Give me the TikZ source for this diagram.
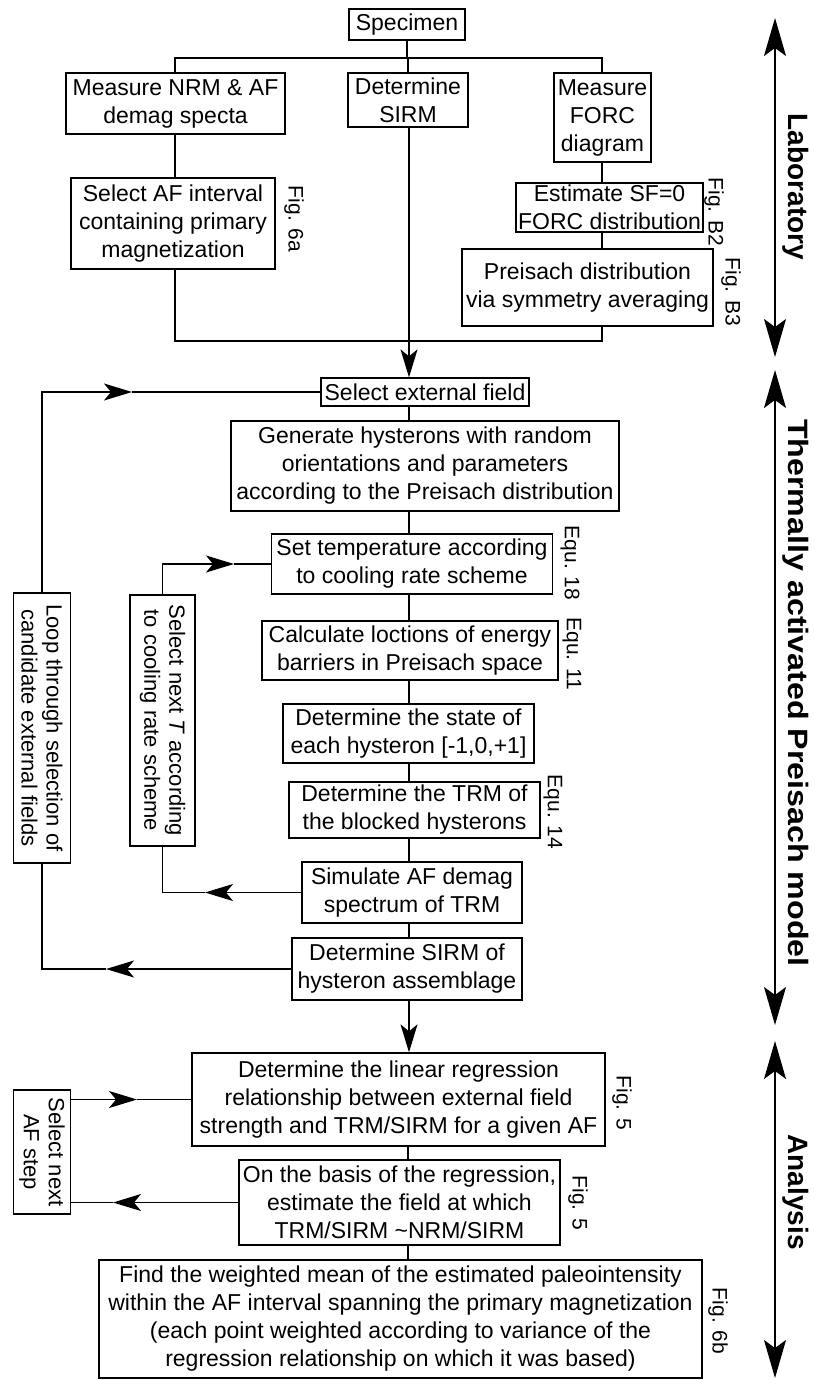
\documentclass[tikz,border=0pt]{standalone}
\usepackage{fontspec}
\setmainfont{Liberation Sans}
\usetikzlibrary{arrows.meta}
\newcommand{\mainsz}{\fontsize{23}{28}\selectfont}
\newcommand{\rotsz}{\fontsize{22}{25}\selectfont}
\newcommand{\figsz}{\fontsize{21}{25}\selectfont}
\newcommand{\sidesz}{\fontsize{28}{32}\selectfont\bfseries}
\begin{document}
\begin{tikzpicture}[x=1pt,y=-1pt,
 box/.style={draw, line width=1.3pt, inner xsep=2pt, inner ysep=0pt, align=center, font=\mainsz},
 rbox/.style={draw, line width=1.3pt, inner xsep=2pt, inner ysep=0pt, align=center, font=\rotsz, rotate=-90},
 figlab/.style={rotate=-90, font=\figsz, inner sep=0pt},
 side/.style={rotate=-90, font=\sidesz, inner sep=0pt},
 conn/.style={line width=1.3pt},
 arr/.style={conn, -{Stealth[length=28pt, width=17pt, inset=7pt]}},
 dbl/.style={line width=1.3pt, {Stealth[length=38pt,width=22pt,inset=8pt]}-{Stealth[length=38pt,width=22pt,inset=8pt]}},
]
\useasboundingbox (0,0) rectangle (814,1380);

% Laboratory
\node[box, minimum width=116pt, minimum height=31pt] (spec) at (407,24.5) {Specimen};
\node[box, minimum width=219pt, minimum height=61pt] (nrm) at (175.5,103.5) {Measure NRM \& AF\\demag specta};
\node[box, minimum width=120pt, minimum height=54pt] (sirm) at (408,100) {Determine\\SIRM};
\node[box, minimum width=97pt, minimum height=89pt] (forc) at (602.5,117.5) {Measure\\FORC\\diagram};
\node[box, minimum width=204pt, minimum height=91pt] (selaf) at (173,223.5) {Select AF interval\\containing primary\\magnetization};
\node[box, minimum width=177pt, minimum height=49pt] (est) at (609.5,207.5) {Estimate SF=0\\FORC distribution};
\node[box, minimum width=251pt, minimum height=77pt] (prei) at (587.5,287.5) {Preisach distribution\\via symmetry averaging};

% Model
\node[box, minimum width=208pt, minimum height=28pt] (selext) at (425,392) {Select external field};
\node[box, minimum width=388pt, minimum height=90pt] (gen) at (425,466) {Generate hysterons with random\\orientations and parameters\\according to the Preisach distribution};
\node[box, minimum width=281pt, minimum height=60pt] (settemp) at (412,564) {Set temperature according\\to cooling rate scheme};
\node[box, minimum width=296pt, minimum height=59pt] (calc) at (410,650.5) {Calculate loctions of energy\\barriers in Preisach space};
\node[box, minimum width=251pt, minimum height=59pt] (state) at (408.5,733.5) {Determine the state of\\each hysteron [-1,0,+1]};
\node[box, minimum width=251pt, minimum height=56pt] (trm) at (414.5,810) {Determine the TRM of\\the blocked hysterons};
\node[box, minimum width=220pt, minimum height=61pt] (sim) at (412,892.5) {Simulate AF demag\\spectrum of TRM};
\node[box, minimum width=230pt, minimum height=62pt] (sirmh) at (407,969) {Determine SIRM of\\hysteron assemblage};
\node[rbox, minimum width=270pt, minimum height=57.5pt] (loop) at (42,728) {Loop through selection of\\candidate external fields};
\node[rbox, minimum width=251pt, minimum height=65pt] (selT) at (162.5,720.5) {Select next \textit{T} according\\to cooling rate scheme};

% Analysis
\node[box, minimum width=413pt, minimum height=93pt] (lin) at (398.5,1099.5) {Determine the linear regression\\relationship between external field\\strength and TRM/SIRM for a given AF};
\node[box, minimum width=321pt, minimum height=85pt] (basis) at (399.5,1202.5) {On the basis of the regression,\\estimate the field at which\\TRM/SIRM \textasciitilde NRM/SIRM};
\node[box, minimum width=603pt, minimum height=118pt] (find) at (400.5,1319) {Find the weighted mean of the estimated paleointensity\\within the AF interval spanning the primary magnetization\\(each point weighted according to variance of the\\regression relationship on which it was based)};
\node[rbox, minimum width=124pt, minimum height=56.5pt] (afstep) at (42,1152) {Select next\\AF step};

% figure / equation labels
\node[figlab] (f6a) at (294,219) {Fig. 6a};
\node[figlab] (fb2) at (714,212) {Fig. B2};
\node[figlab] (fb3) at (731,292) {Fig. B3};
\node[figlab] (e18) at (570,563) {Equ. 18};
\node[figlab] (e11) at (572,654) {Equ. 11};
\node[figlab] (e14) at (553,812) {Equ. 14};
\node[figlab] (f5a) at (622,1103) {Fig. 5};
\node[figlab] (f5b) at (578,1203) {Fig. 5};
\node[figlab] (f6b) at (718,1321) {Fig. 6b};

% side labels and arrows
\coordinate (labT) at (775,18);
\coordinate (labB) at (775,357);
\coordinate (thT) at (775,370);
\coordinate (thB) at (775,1025);
\coordinate (anT) at (775,1041);
\coordinate (anB) at (775,1378);
\draw[dbl] (labT) -- (labB);
\draw[dbl] (thT) -- (thB);
\draw[dbl] (anT) -- (anB);
\node[side] (lab) at (796,187) {Laboratory};
\node[side] (therm) at (796,693) {\scalebox{1.15}[1]{Thermally activated Preisach model}};
\node[side] (anal) at (796,1192) {Analysis};

% laboratory connectors
\coordinate (br) at (407,58);
\coordinate (xL) at (175,0);
\coordinate (xR) at (602,0);
\coordinate (yM) at (0,341);
\draw[conn] (spec.south) -- (br);
\draw[conn] (xL |- nrm.north) |- (br) -| (xR |- forc.north);
\draw[conn] (br) -| (sirm.north);
\draw[conn] (xL |- nrm.south) -- (xL |- selaf.north);
\draw[conn] (xR |- forc.south) -- (xR |- est.north);
\draw[conn] (xR |- est.south) -- (xR |- prei.north);
\draw[conn] (xL |- selaf.south) -- (xL |- yM) -- (xR |- yM) -- (xR |- prei.south);

% spine
\coordinate (sp) at (409,0);
\draw[arr] (sp |- sirm.south) -- (sp |- selext.north);
\draw[conn] (sp |- selext.south) -- (sp |- gen.north);
\draw[conn] (sp |- gen.south) -- (sp |- settemp.north);
\draw[conn] (sp |- settemp.south) -- (sp |- calc.north);
\draw[conn] (sp |- calc.south) -- (sp |- state.north);
\draw[conn] (sp |- state.south) -- (sp |- trm.north);
\draw[conn] (sp |- trm.south) -- (sp |- sim.north);
\draw[conn] (sp |- sim.south) -- (sp |- sirmh.north);
\draw[arr] (sp |- sirmh.south) -- (sp |- lin.north);
\coordinate (sp2) at (408,0);
\draw[conn] (sp2 |- lin.south) -- (sp2 |- basis.north);
\draw[conn] (sp2 |- basis.south) -- (sp2 |- find.north);

% outer loop
\coordinate (xa) at (132,0);
\coordinate (xb) at (106,0);
\draw[arr] (loop.west) |- (xa |- selext.west);
\draw[conn] (xa |- selext.west) -- (selext.west);
\draw[arr] (sirmh.west) -- (xb |- sirmh.west);
\draw[conn] (xb |- sirmh.west) -| (loop.east);

% inner loop
\coordinate (xc) at (234,0);
\coordinate (xd) at (205,0);
\draw[arr] (selT.west) |- (xc |- settemp.west);
\draw[conn] (xc |- settemp.west) -- (settemp.west);
\draw[arr] (sim.west) -- (xd |- sim.west);
\draw[conn] (xd |- sim.west) -| (selT.east);

% analysis loop
\coordinate (xe) at (137,0);
\coordinate (xf) at (113,0);
\coordinate (xg) at (70,0);
\draw[arr] (xg |- lin.west) -- (xe |- lin.west);
\draw[conn] (xe |- lin.west) -- (lin.west);
\draw[arr] (basis.west) -- (xf |- basis.west);
\draw[conn] (xf |- basis.west) -- (xg |- basis.west);
\end{tikzpicture}
\end{document}
